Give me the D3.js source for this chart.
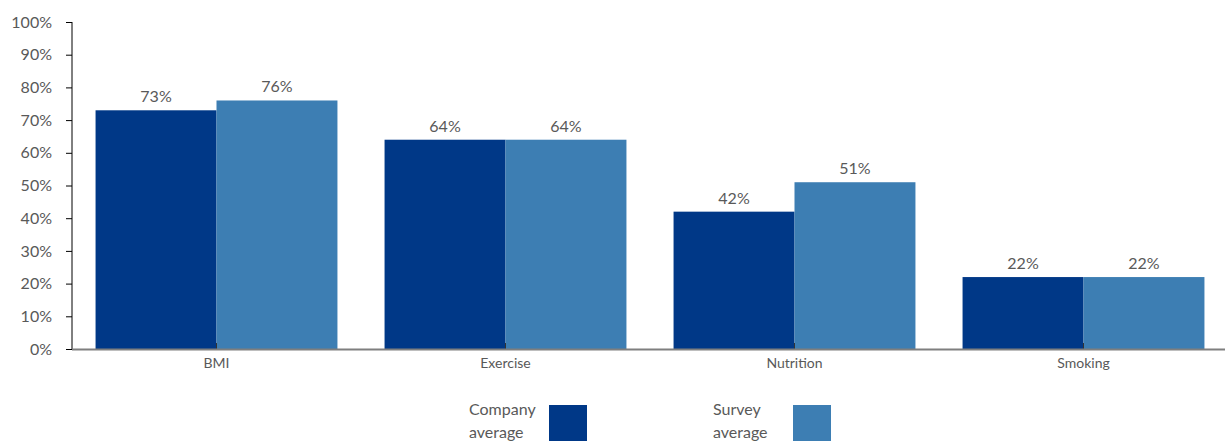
<!DOCTYPE html>
<html>
<head>
<meta charset="utf-8">
<script src="https://cdn.jsdelivr.net/npm/d3@7"></script>
<style>
  html, body { margin: 0; padding: 0; background: #fff; }
  svg { display: block; font-family: Lato, "Open Sans", sans-serif; }
</style>
</head>
<body>
<svg id="chart" width="1225" height="441"></svg>
<script>
// Health indicators: company vs survey averages (share of employees)
const categories = ["BMI", "Exercise", "Nutrition", "Smoking"];
const seriesNames = ["Company average", "Survey average"];
const companyValues = [0.73, 0.64, 0.42, 0.22];
const surveyValues = [0.76, 0.64, 0.51, 0.22];
const yTicks = [0, 0.1, 0.2, 0.3, 0.4, 0.5, 0.6, 0.7, 0.8, 0.9, 1.0];
const colors = ["#003887", "#3D7EB3"];

const rows = categories.map((c, i) => ({
  category: c,
  values: [companyValues[i], surveyValues[i]]
}));

const svg = d3.select("#chart");
const margin = { left: 72, top: 22, bottom: 92 };
const plotBottom = 441 - margin.bottom;   // baseline y

const x = d3.scaleBand()
  .domain(categories)
  .range([margin.left, 1228])
  .paddingInner(0.163)
  .paddingOuter(0.0815);

const xSub = d3.scaleBand()
  .domain(seriesNames)
  .range([0, x.bandwidth()]);

const y = d3.scaleLinear()
  .domain([0, 1])
  .range([plotBottom, margin.top]);

const textColor = "#595959";

// Bars
const groups = svg.append("g")
  .selectAll("g")
  .data(rows)
  .join("g")
  .attr("transform", d => `translate(${x(d.category)},0)`);

groups.selectAll("rect")
  .data(d => d.values.map((v, i) => ({ name: seriesNames[i], value: v, i })))
  .join("rect")
  .attr("x", d => xSub(d.name))
  .attr("width", xSub.bandwidth())
  .attr("y", d => y(d.value))
  .attr("height", d => y(0) - y(d.value))
  .attr("fill", d => colors[d.i]);

// Value labels
groups.selectAll("text")
  .data(d => d.values.map((v, i) => ({ name: seriesNames[i], value: v })))
  .join("text")
  .attr("x", d => xSub(d.name) + xSub.bandwidth() / 2)
  .attr("y", d => y(d.value) - 8)
  .attr("text-anchor", "middle")
  .attr("font-size", 16)
  .attr("fill", textColor)
  .text(d => d3.format(".0%")(d.value));

// Y axis
const yAxis = svg.append("g")
  .attr("transform", `translate(${margin.left},0)`)
  .call(d3.axisLeft(y).tickValues(yTicks).tickFormat(d3.format(".0%")).tickSize(6).tickPadding(14));
yAxis.select(".domain").attr("stroke", "#000").attr("d", `M0,${y(1)}V${y(0)}`);
yAxis.selectAll(".tick line").attr("stroke", "#000");
yAxis.selectAll(".tick text")
  .attr("font-size", 16)
  .attr("font-family", "Lato, 'Open Sans', sans-serif")
  .attr("fill", textColor);

// X axis
const xAxis = svg.append("g")
  .attr("transform", `translate(0,${plotBottom})`)
  .call(d3.axisBottom(x).tickSize(0).tickPadding(9));
xAxis.select(".domain").remove();
xAxis.append("line")
  .attr("x1", margin.left).attr("x2", 1225)
  .attr("y1", 0.5).attr("y2", 0.5)
  .attr("stroke", "#7f7f7f").attr("stroke-width", 2);
xAxis.selectAll(".tick").append("line")
  .attr("y1", 0).attr("y2", -6)
  .attr("stroke", "#333");
xAxis.selectAll(".tick text")
  .attr("font-size", 14)
  .attr("font-family", "Lato, 'Open Sans', sans-serif")
  .attr("fill", textColor);

// Legend
const legendX = [469, 713];
const legend = svg.append("g")
  .selectAll("g")
  .data(seriesNames)
  .join("g")
  .attr("transform", (d, i) => `translate(${legendX[i]},0)`);

legend.append("text")
  .attr("font-size", 16)
  .attr("fill", textColor)
  .selectAll("tspan")
  .data(d => d.split(" "))
  .join("tspan")
  .attr("x", 0)
  .attr("y", (d, i) => 415 + i * 23)
  .text(d => d);

legend.append("rect")
  .attr("x", 80).attr("y", 405)
  .attr("width", 38).attr("height", 38)
  .attr("fill", (d, i) => colors[i]);
</script>
</body>
</html>
